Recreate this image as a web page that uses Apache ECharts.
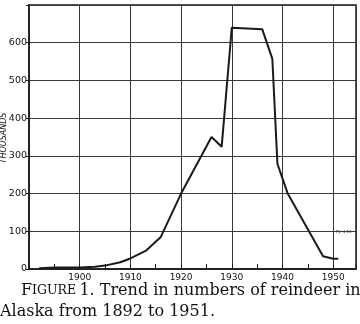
<!DOCTYPE html>
<html>
<head>
<meta charset="utf-8">
<script src="https://cdn.jsdelivr.net/npm/echarts@6/dist/echarts.min.js"></script>
<style>
  html, body { margin: 0; padding: 0; background: #fff; }
  #chart { width: 360px; height: 324px; }
</style>
</head>
<body>
<div id="chart"></div>
<script>
// reindeer in Alaska, thousands
const years = [1892, 1895, 1900, 1903, 1905, 1908, 1910, 1913, 1916, 1920, 1926, 1928, 1930, 1936, 1938, 1939, 1941, 1948, 1950, 1951];
const reindeer = [2, 4, 4, 6, 9, 18, 28, 48, 85, 200, 350, 324, 640, 636, 557, 279, 201, 34, 27, 27];
const yTicks = [0, 100, 200, 300, 400, 500, 600];
const xTicks = [1900, 1910, 1920, 1930, 1940, 1950];

const chart = echarts.init(document.getElementById('chart'), null, { renderer: 'canvas' });

const lineColor = '#1a1a1a';
const gridColor = '#3a3a3a';

const option = {
  animation: false,
  backgroundColor: '#fff',
  grid: {
    left: 29,
    right: 4,
    top: 5,
    bottom: 55,
    containLabel: false,
    outerBoundsMode: 'none',
    show: true,
    borderColor: lineColor,
    borderWidth: 1.5,
  },
  xAxis: {
    type: 'value',
    min: 1890,
    max: 1954.5,
    interval: 10,
    axisLine: { show: true, onZero: false, lineStyle: { color: lineColor, width: 1.5 } },
    axisTick: { show: true, inside: true, length: 5, lineStyle: { color: lineColor } },
    minorTick: { show: true, splitNumber: 2, length: 5, lineStyle: { color: lineColor, width: 1 } },
    splitLine: { show: true, lineStyle: { color: gridColor, width: 1 } },
    axisLabel: {
      fontFamily: 'DejaVu Sans',
      fontSize: 9,
      color: '#111',
      margin: 4,
      showMaxLabel: false,
      formatter: (v) => (xTicks.includes(v) ? String(v) : ''),
    },
  },
  yAxis: {
    type: 'value',
    min: 0,
    max: 700,
    interval: 100,
    axisLine: { show: true, lineStyle: { color: lineColor, width: 1.5 } },
    axisTick: { show: true, length: 3, lineStyle: { color: lineColor } },
    splitLine: { show: true, lineStyle: { color: gridColor, width: 1 } },
    axisLabel: {
      fontFamily: 'DejaVu Sans',
      fontSize: 9.5,
      color: '#111',
      margin: 2,
      formatter: (v) => (yTicks.includes(v) ? String(v) : ''),
    },
  },
  series: [{
    type: 'line',
    data: years.map((y, i) => [y, reindeer[i]]),
    showSymbol: false,
    lineStyle: { color: lineColor, width: 2 },
  }],
  graphic: [
    {
      // y axis title
      type: 'text',
      x: 3.5,
      y: 138,
      rotation: Math.PI / 2,
      style: {
        text: 'THOUSANDS',
        fontFamily: 'DejaVu Sans',
        fontStyle: 'italic',
        fontSize: 8,
        fill: '#111',
        align: 'center',
        verticalAlign: 'middle',
      },
    },
    {
      type: 'text',
      left: 336,
      top: 230,
      style: { text: 'P.J. 4-51', fontSize: 4, fill: '#222', fontFamily: 'DejaVu Sans' },
    },
    {
      type: 'text',
      left: 21,
      top: 283,
      style: {
        text: '{a|F}{b|IGURE} {a|1. Trend in numbers of reindeer in}',
        rich: {
          a: { fontFamily: 'DejaVu Serif', fontSize: 16, fill: '#111' },
          b: { fontFamily: 'DejaVu Serif', fontSize: 12.5, fill: '#111' },
        },
      },
    },
    {
      type: 'text',
      left: 0,
      top: 304,
      style: { text: 'Alaska from 1892 to 1951.', fontFamily: 'DejaVu Serif', fontSize: 16, fill: '#111' },
    },
  ],
};

chart.setOption(option);
</script>
</body>
</html>
